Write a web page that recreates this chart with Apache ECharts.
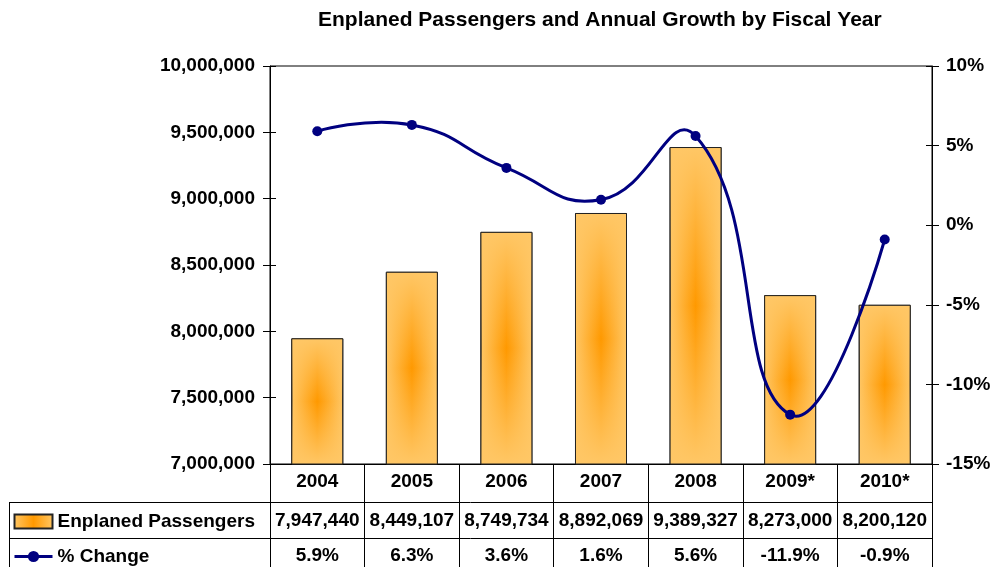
<!DOCTYPE html>
<html>
<head>
<meta charset="utf-8">
<script src="https://cdn.jsdelivr.net/npm/echarts@6/dist/echarts.min.js"></script>
<style>
  html, body { margin: 0; padding: 0; background: #fff; }
  #chart { width: 997px; height: 567px; }
</style>
</head>
<body>
<div id="chart"></div>
<script>
const years = ['2004', '2005', '2006', '2007', '2008', '2009*', '2010*'];
const passengers = [7947440, 8449107, 8749734, 8892069, 9389327, 8273000, 8200120];
const pctChange = [5.9, 6.3, 3.6, 1.6, 5.6, -11.9, -0.9];

const leftTicks = { min: 7000000, max: 10000000, interval: 500000 };
const rightTicks = { min: -15, max: 10, interval: 5 };

const FONT = 'Liberation Sans, Arial, sans-serif';
const light = '#FFC766';
const dark = '#FF9900';
const navy = '#000080';

const chart = echarts.init(document.getElementById('chart'));

const labelFont = { fontFamily: FONT, fontSize: 19, fontWeight: 'bold', color: '#000' };

const option = {
  animation: false,
  textStyle: { fontFamily: FONT },
  title: {
    text: 'Enplaned Passengers and Annual Growth by Fiscal Year',
    left: 313,
    top: 5,
    textStyle: { fontFamily: FONT, fontSize: 21, fontWeight: 'bold', color: '#000' }
  },
  legend: {
    orient: 'vertical',
    left: 13,
    top: 512,
    padding: 0,
    itemWidth: 38,
    itemHeight: 14,
    itemGap: 16,
    data: [
      { name: 'Enplaned Passengers', icon: 'rect' },
      { name: '% Change', lineStyle: { color: navy, width: 3, opacity: 1 } }
    ],
    textStyle: { fontFamily: FONT, fontSize: 19, fontWeight: 'bold', color: '#000' }
  },
  grid: {
    left: 270, right: 65, top: 66, bottom: 103,
    show: true, borderColor: '#000', borderWidth: 1
  },
  xAxis: {
    type: 'category',
    data: years,
    axisLine: { onZero: false, lineStyle: { color: '#000', width: 1 } },
    axisTick: { show: true, interval: 0, length: 110, lineStyle: { color: '#000' } },
    axisLabel: {
      interval: 0,
      margin: 0,
      formatter: (v, i) => '{y|' + v + '}\n{p|' + passengers[i].toLocaleString('en-US') + '}\n{c|' + pctChange[i].toFixed(1) + '%}',
      rich: {
        y: Object.assign({ lineHeight: 36 }, labelFont),
        p: Object.assign({ lineHeight: 42 }, labelFont),
        c: Object.assign({ lineHeight: 28 }, labelFont)
      }
    }
  },
  yAxis: [
    {
      type: 'value', position: 'left',
      min: leftTicks.min, max: leftTicks.max, interval: leftTicks.interval,
      splitLine: { show: false },
      axisLine: { show: true, lineStyle: { color: '#000' } },
      axisTick: { show: true, length: 7, lineStyle: { color: '#000' } },
      axisLabel: Object.assign({ margin: 15, formatter: v => v.toLocaleString('en-US') }, labelFont)
    },
    {
      type: 'value', position: 'right',
      min: rightTicks.min, max: rightTicks.max, interval: rightTicks.interval,
      splitLine: { show: false },
      axisLine: { show: true, lineStyle: { color: '#000' } },
      axisTick: { show: true, length: 7, lineStyle: { color: '#000' } },
      axisLabel: Object.assign({ margin: 14, formatter: '{value}%' }, labelFont)
    },
    {
      type: 'value', position: 'left',
      min: leftTicks.min, max: leftTicks.max, interval: leftTicks.interval,
      splitLine: { show: false }, axisLine: { show: false }, axisLabel: { show: false },
      axisTick: { show: true, inside: true, length: 6, lineStyle: { color: '#000' } }
    },
    {
      type: 'value', position: 'right',
      min: rightTicks.min, max: rightTicks.max, interval: rightTicks.interval,
      splitLine: { show: false }, axisLine: { show: false }, axisLabel: { show: false },
      axisTick: { show: true, inside: true, length: 6, lineStyle: { color: '#000' } }
    }
  ],
  graphic: [
    { type: 'line', shape: { x1: 9, y1: 502.5, x2: 932, y2: 502.5 }, style: { stroke: '#000', lineWidth: 1 } },
    { type: 'line', shape: { x1: 9, y1: 538.5, x2: 932, y2: 538.5 }, style: { stroke: '#000', lineWidth: 1 } },
    { type: 'line', shape: { x1: 9.5, y1: 502, x2: 9.5, y2: 567 }, style: { stroke: '#000', lineWidth: 1 } }
  ],
  series: [
    {
      name: 'Enplaned Passengers',
      type: 'bar',
      yAxisIndex: 0,
      barWidth: '55%',
      data: passengers,
      itemStyle: {
        borderColor: '#222',
        borderWidth: 1,
        color: new echarts.graphic.LinearGradient(0, 0, 1, 0, [
          { offset: 0, color: light },
          { offset: 0.5, color: dark },
          { offset: 1, color: light }
        ])
      }
    },
    {
      name: 'shade',
      type: 'bar',
      yAxisIndex: 0,
      barWidth: '55%',
      barGap: '-100%',
      silent: true,
      data: passengers,
      itemStyle: {
        color: new echarts.graphic.LinearGradient(0, 0, 0, 1, [
          { offset: 0, color: 'rgba(255,199,102,1)' },
          { offset: 0.5, color: 'rgba(255,199,102,0)' },
          { offset: 1, color: 'rgba(255,199,102,1)' }
        ]),
        borderColor: '#222',
        borderWidth: 1
      }
    },
    {
      // smooth curve through the % change points (unconstrained spline, like the original)
      name: 'curve',
      type: 'custom',
      yAxisIndex: 1,
      silent: true,
      z: 5,
      data: pctChange,
      renderItem: (params, api) => {
        if (params.dataIndex !== 0) return null;
        const pts = pctChange.map((v, i) => api.coord([i, v]));
        return {
          type: 'polyline',
          z2: 10,
          shape: { points: pts, smooth: 0.5 },
          style: { stroke: navy, lineWidth: 3, fill: null }
        };
      }
    },
    {
      name: '% Change',
      type: 'line',
      yAxisIndex: 1,
      z: 6,
      data: pctChange,
      symbol: 'circle',
      symbolSize: 10,
      lineStyle: { color: 'rgba(0,0,0,0)', width: 3 },
      itemStyle: { color: navy }
    }
  ]
};

chart.setOption(option);
</script>
</body>
</html>
